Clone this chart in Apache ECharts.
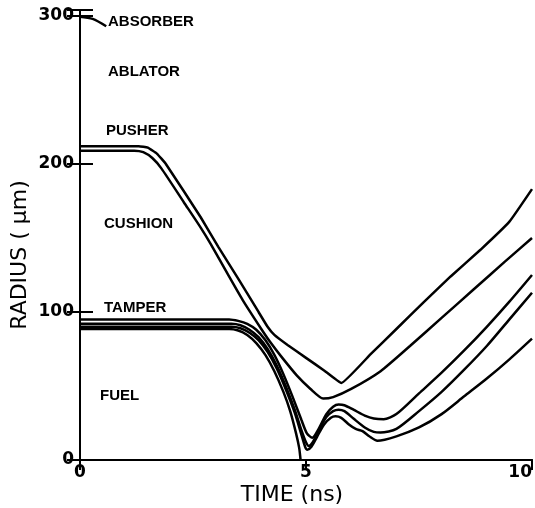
<!DOCTYPE html>
<html>
<head>
<meta charset="utf-8">
<script src="https://cdn.jsdelivr.net/npm/echarts@6/dist/echarts.min.js"></script>
<style>
  html, body { margin: 0; padding: 0; background: #fff; }
  #chart { width: 535px; height: 508px; }
</style>
</head>
<body>
<div id="chart"></div>
<script>
// Zone boundaries of the imploding target: [time (ns), radius (µm)]
const absorberAblator = [[0, 299.5], [0.28, 298], [0.58, 293]];

const ablatorPusher = [
  [0, 212], [1.3, 212], [1.5, 211], [1.7, 207], [1.9, 200], [2.67, 164], [3.06, 144],
  [3.51, 122], [3.95, 100], [4.15, 90], [4.3, 84.5], [4.6, 77.5], [5.0, 69], [5.4, 60.5],
  [5.78, 52], [6.43, 71.5], [7.0, 88.5], [7.6, 106.5], [8.2, 124], [8.86, 142],
  [9.5, 161], [10, 183]
];

const pusherCushion = [
  [0, 209], [1.2, 209], [1.4, 208], [1.6, 204], [1.8, 197], [2.3, 174], [2.67, 157],
  [2.89, 146], [3.26, 126], [3.6, 108], [4.0, 89], [4.2, 80], [4.45, 70], [4.8, 57],
  [5.1, 48], [5.38, 41.5], [5.6, 42.5], [6.0, 48], [6.65, 60], [7.3, 77], [8.0, 96],
  [8.7, 115], [9.4, 134], [10, 150]
];

const tamperOuter = [
  [0, 95], [3.3, 95], [3.5, 94], [3.7, 92], [3.9, 88], [4.1, 81], [4.3, 71], [4.5, 58],
  [4.7, 43], [4.9, 27], [5.02, 18], [5.14, 15], [5.28, 21], [5.45, 31], [5.6, 36],
  [5.72, 37.5], [5.85, 37], [6.05, 34], [6.3, 30], [6.5, 28], [6.72, 27.5], [7.0, 31],
  [7.5, 45], [8.0, 59], [8.5, 74], [9.0, 90], [9.5, 107], [10, 125]
];

const tamperInner = [
  [0, 92], [3.35, 92], [3.55, 91], [3.75, 88], [3.95, 83], [4.15, 75], [4.35, 64],
  [4.55, 50], [4.75, 34], [4.9, 20], [5.0, 12], [5.06, 9.5], [5.15, 12], [5.3, 21],
  [5.45, 29], [5.6, 33], [5.72, 34], [5.85, 33], [6.05, 28], [6.3, 22], [6.5, 19],
  [6.65, 18.5], [7.0, 21], [7.5, 33], [8.0, 46], [8.5, 61], [9.0, 77], [9.5, 95], [10, 113]
];

const fuelOuter = [
  [0, 90], [3.35, 90], [3.55, 89], [3.75, 86], [3.95, 81], [4.15, 73], [4.35, 62],
  [4.55, 48], [4.75, 32], [4.9, 17], [4.98, 9], [5.03, 7], [5.12, 9], [5.25, 16],
  [5.4, 24], [5.55, 28.5], [5.65, 29.5], [5.78, 28.5], [5.95, 24], [6.1, 21], [6.25, 19.5],
  [6.4, 16], [6.58, 13], [7.0, 16], [7.5, 22], [8.0, 31], [8.5, 43], [9.0, 55],
  [9.5, 68], [10, 82]
];

const fuelCore = [
  [0, 88.5], [3.3, 88.5], [3.5, 87.5], [3.7, 84.5], [3.9, 79], [4.1, 71], [4.3, 60],
  [4.5, 46], [4.65, 33], [4.78, 18], [4.85, 8], [4.88, 0]
];

const zoneNames = ['ABSORBER', 'ABLATOR', 'PUSHER', 'CUSHION', 'TAMPER', 'FUEL'];
const timeTicks = [0, 5, 10];
const radiusTicks = [0, 100, 200, 300];

const chart = echarts.init(document.getElementById('chart'), null, { renderer: 'canvas' });

const ink = '#000';
const boundaryLine = (data, smooth) => ({
  type: 'line',
  data: data,
  showSymbol: false,
  smooth: smooth,
  lineStyle: { color: ink, width: 2.5 },
  silent: true,
  z: 3
});

const axisCommon = {
  axisLine: { show: true, lineStyle: { color: ink, width: 2 } },
  splitLine: { show: false }
};

// label anchors in pixels (left edge, vertical middle)
const zoneAnchors = [[108, 22], [108, 72], [106, 131], [104, 224], [104, 308], [100, 396]];

chart.setOption({
  backgroundColor: '#fff',
  animation: false,
  grid: { left: 80, right: 3, top: 10, bottom: 48, outerBoundsMode: 'none', containLabel: false },
  xAxis: [
    Object.assign({
      type: 'value', min: 0, max: 10, interval: 5, position: 'bottom',
      axisTick: { show: false },
      axisLabel: {
        color: ink, fontFamily: 'DejaVu Sans', fontWeight: 'bold', fontSize: 17, margin: 4,
        alignMaxLabel: 'right',
        formatter: v => timeTicks.includes(v) ? String(v) : ''
      }
    }, axisCommon),
    Object.assign({
      type: 'value', min: 0, max: 10, interval: 5, position: 'top',
      axisTick: { show: true, inside: true, length: 10, lineStyle: { color: ink, width: 2 } },
      axisLabel: { show: false }
    }, axisCommon)
  ],
  yAxis: [
    Object.assign({
      type: 'value', min: 0, max: 304, interval: 100, position: 'left',
      axisTick: { show: true, inside: true, length: 13, lineStyle: { color: ink, width: 2 } },
      axisLabel: {
        color: ink, fontFamily: 'DejaVu Sans', fontWeight: 'bold', fontSize: 17, margin: 6,
        formatter: v => radiusTicks.includes(v) ? String(v) : ''
      }
    }, axisCommon),
    Object.assign({
      type: 'value', min: 0, max: 304, interval: 100, position: 'right',
      axisTick: { show: true, inside: true, length: 13, lineStyle: { color: ink, width: 2 } },
      axisLabel: { show: false }
    }, axisCommon)
  ],
  series: [
    boundaryLine(absorberAblator, 0.3),
    boundaryLine(ablatorPusher, 0.1),
    boundaryLine(pusherCushion, 0.2),
    boundaryLine(tamperOuter, 0.25),
    boundaryLine(tamperInner, 0.25),
    boundaryLine(fuelOuter, 0.25),
    boundaryLine(fuelCore, 0.2)
  ],
  graphic: [
    ...zoneNames.map((name, i) => ({
      type: 'text',
      x: zoneAnchors[i][0],
      y: zoneAnchors[i][1],
      z: 10,
      style: {
        text: name, fill: ink,
        font: 'bold 15px "Liberation Sans", Arial, sans-serif',
        align: 'left', verticalAlign: 'middle'
      }
    })),
    {
      type: 'text', x: 292, y: 495, z: 10,
      style: {
        text: 'TIME (ns)', fill: ink,
        font: '22px "DejaVu Sans", sans-serif',
        align: 'center', verticalAlign: 'middle'
      }
    },
    {
      type: 'text', x: 20, y: 255, rotation: Math.PI / 2, z: 10,
      style: {
        text: 'RADIUS ( μm)', fill: ink,
        font: '22px "DejaVu Sans", sans-serif',
        align: 'center', verticalAlign: 'middle'
      }
    }
  ]
});
</script>
</body>
</html>
